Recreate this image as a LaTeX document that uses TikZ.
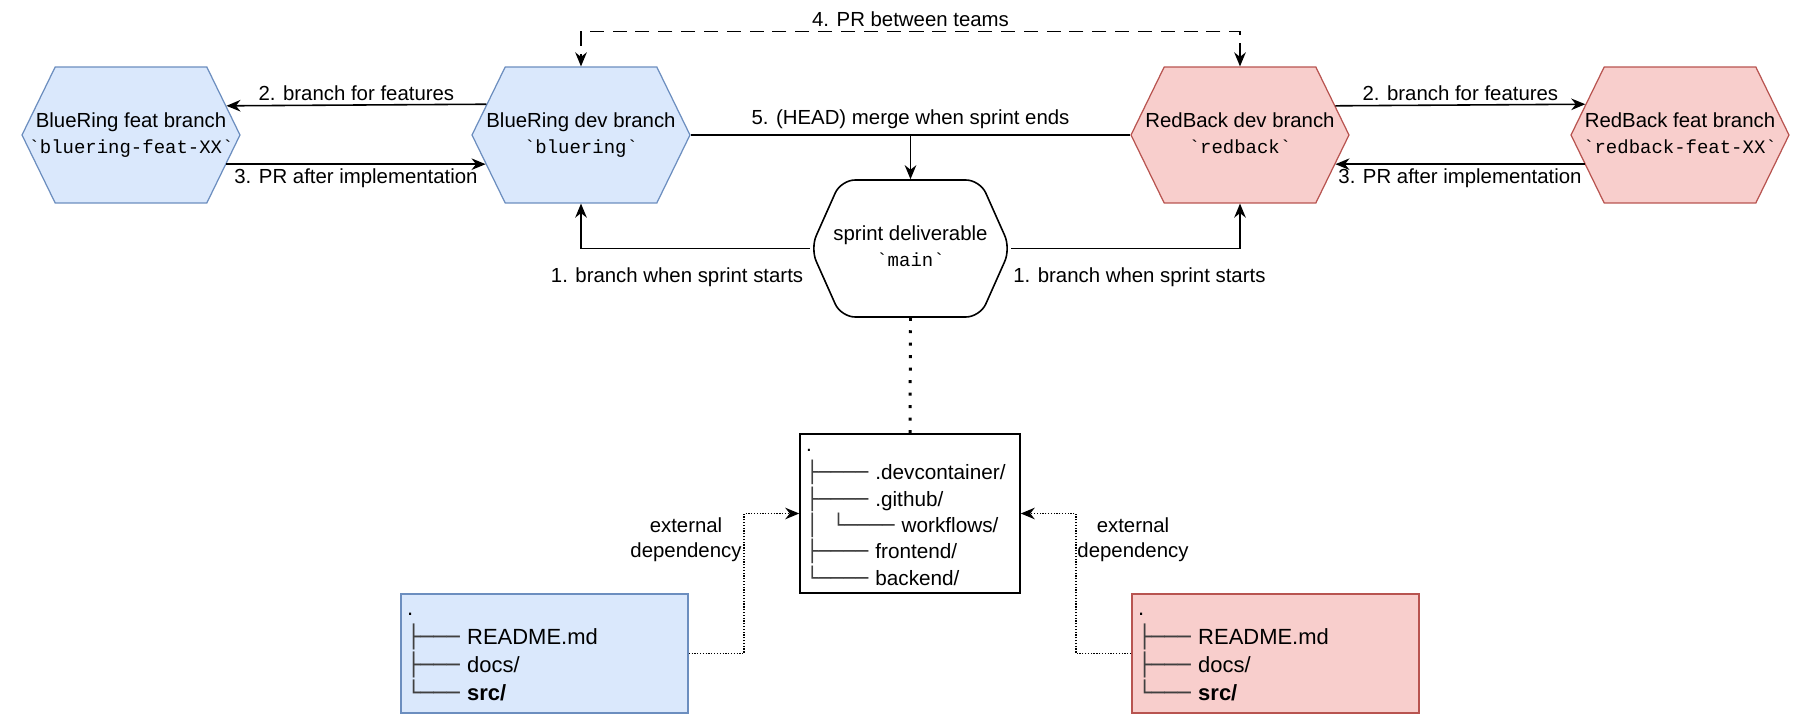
\documentclass[tikz,border=0pt]{standalone}
\usepackage{fontspec}
\setmainfont{Liberation Sans}
\newfontfamily\codefont[Ligatures=TeXOff]{Liberation Mono}
\newfontfamily\treefont{DejaVu Sans Mono}
\usetikzlibrary{shapes.symbols,arrows.meta}

\definecolor{blueFill}{HTML}{DAE8FC}
\definecolor{blueLine}{HTML}{6C8EBF}
\definecolor{redFill}{HTML}{F8CECC}
\definecolor{redLine}{HTML}{B85450}

\newcommand{\codetxt}[1]{{\fontsize{10.8pt}{14.7pt}\selectfont\codefont #1}}
\newcommand{\tbr}[1]{{\treefont\color{black!75}#1}}
% two-line caption that does not widen the hexagon
\newcommand{\hexcap}[2]{\makebox[0pt]{\begin{tabular}{@{}c@{}}#1\\\codetxt{#2}\end{tabular}}}

\tikzset{
	flowtip/.tip={Stealth[length=8pt,width=6.6pt,inset=2.6pt]},
	hexnode/.style={shape=signal, signal to=east and west, signal pointer angle=128,
		line width=0.7pt, minimum width=4.36cm, minimum height=2.72cm, inner sep=0pt,
		font=\fontsize{11.6pt}{14.7pt}\selectfont},
	bluehex/.style={hexnode, fill=blueFill, draw=blueLine},
	redhex/.style={hexnode, fill=redFill, draw=redLine},
	sprinthex/.style={hexnode, draw=black, fill=white, line width=0.9pt, rounded corners=8pt,
		signal pointer angle=132, minimum width=4.0cm, minimum height=2.74cm},
	repobox/.style={draw, line width=0.9pt, align=left, inner xsep=0.12cm, inner ysep=0pt,
		execute at begin node=\strut, execute at end node=\strut},
	flow/.style={line width=0.9pt, -flowtip},
	lbl/.style={inner sep=2pt},
	dep/.style={flow, line width=0.7pt, dash pattern=on 0.7pt off 0.9pt},
	deplbl/.style={align=center, inner sep=0pt, font=\fontsize{11.6pt}{14.2pt}\selectfont}
}

\begin{document}
\begin{tikzpicture}[x=0.02cm,y=-0.02cm,font=\fontsize{11.6pt}{13.9pt}\selectfont]
\useasboundingbox (0,0) rectangle (1806,726);

% branches
\node[bluehex] (brfeat) at (131,135) {\hexcap{BlueRing feat branch}{`bluering-feat-XX`}};
\node[bluehex] (brdev) at (581,135) {\hexcap{BlueRing dev branch}{`bluering`}};
\node[redhex] (rbdev) at (1240,135) {\hexcap{RedBack dev branch}{`redback`}};
\node[redhex] (rbfeat) at (1680,135) {\hexcap{RedBack feat branch}{`redback-feat-XX`}};
\node[sprinthex] (sprint) at (910.5,248.5) {\hexcap{sprint deliverable}{`main`}};

% repositories
\node[repobox, minimum width=4.4cm, minimum height=3.18cm, text width=4.16cm,
	font=\fontsize{11.8pt}{13.7pt}\selectfont] (repo) at (910,513.5) {.\\
	\tbr{├────} .devcontainer/\\
	\tbr{├────} .github/\\
	\tbr{│\ \ └────} workflows/\\
	\tbr{├────} frontend/\\
	\tbr{└────} backend/};
\node[repobox, draw=blueLine, fill=blueFill, minimum width=5.74cm, minimum height=2.38cm,
	text width=5.5cm, font=\fontsize{12.5pt}{12.8pt}\selectfont] (bluerepo) at (544.5,653.5) {.\\
	\tbr{├───} README.md\\
	\tbr{├───} docs/\\
	\tbr{└───} \textbf{src/}};
\node[repobox, draw=redLine, fill=redFill, minimum width=5.74cm, minimum height=2.38cm,
	text width=5.5cm, font=\fontsize{12.5pt}{12.8pt}\selectfont] (redrepo) at (1275.5,653.5) {.\\
	\tbr{├───} README.md\\
	\tbr{├───} docs/\\
	\tbr{└───} \textbf{src/}};

% sprint flow
\draw[flow] (sprint.west) -| node[lbl, pos=0.29, below=8.5pt] {1. branch when sprint starts} (brdev.south);
\draw[flow] (sprint.east) -| node[lbl, pos=0.28, below=8.5pt] {1. branch when sprint starts} (rbdev.south);

\draw[flow] (brdev.162.4) -- node[lbl, above] {2. branch for features} (brfeat.17.6);
\draw[flow] (brfeat.-17.6) -- node[lbl, below] {3. PR after implementation} (brdev.197.6);
\draw[flow] (rbdev.17.6) -- node[lbl, above] {2. branch for features} (rbfeat.162.4);
\draw[flow] (rbfeat.197.6) -- node[lbl, below] {3. PR after implementation} (rbdev.-17.6);

\draw[flow, flowtip-flowtip, dash pattern=on 8pt off 5pt] (rbdev.north) -- ++(0,-35)
	-| node[lbl, pos=0.25, above] {4. PR between teams} (brdev.north);

\draw[line width=0.9pt] (brdev.east) -- (rbdev.west);
\draw[flow] (sprint.north |- brdev.east) node[above] {5. (HEAD) merge when sprint ends} -- (sprint.north);

% deliverable content
\draw[line width=1.7pt, dash pattern=on 1.7pt off 5.4pt] (sprint.south) -- (repo.north);

\coordinate (bluebend) at (744,583);
\coordinate (redbend) at (1076,583);
\draw[dep] (bluerepo.east) -| (bluebend) |- (repo.west);
\draw[dep] (redrepo.west) -| (redbend) |- (repo.east);
\node[deplbl] (bluedep) at (686,540) {external\\dependency};
\node[deplbl] (reddep) at (1133,540) {external\\dependency};
\end{tikzpicture}
\end{document}
